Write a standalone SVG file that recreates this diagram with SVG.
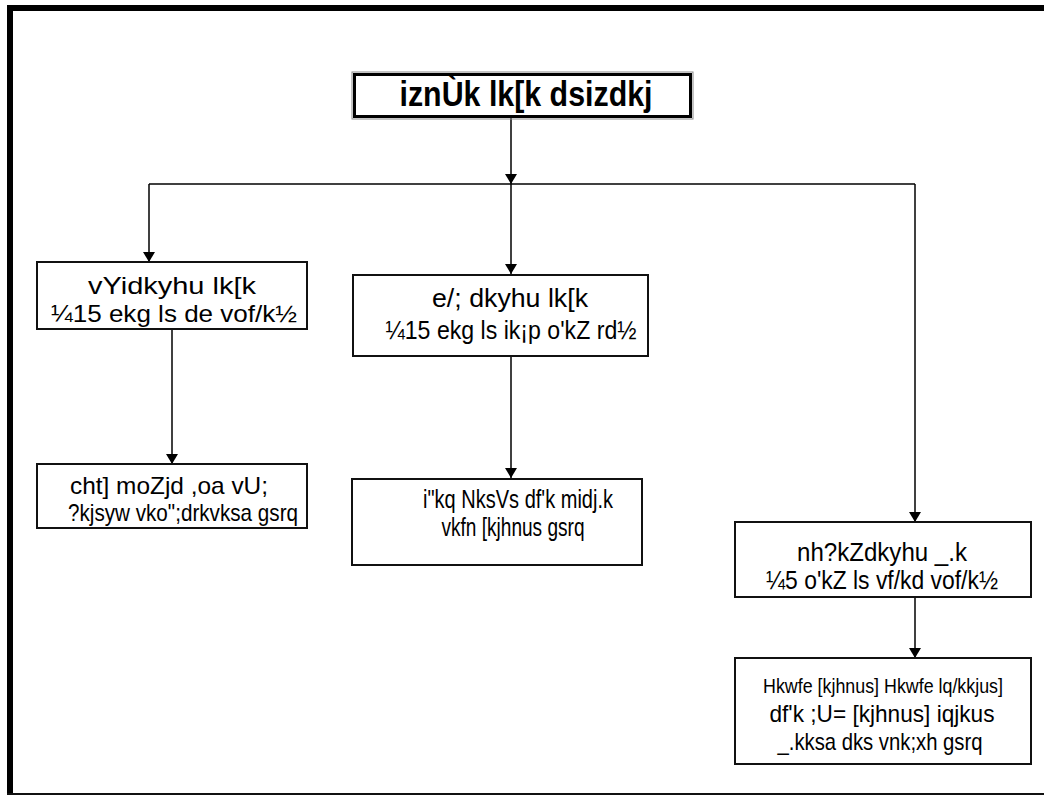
<svg xmlns="http://www.w3.org/2000/svg" width="1044" height="797" viewBox="0 0 1044 797">
<defs>
<marker id="arr" viewBox="0 0 10 12" refX="10" refY="6" markerWidth="10" markerHeight="12" markerUnits="userSpaceOnUse" orient="auto">
<path d="M0,0 L10,6 L0,12 Z" fill="#000"/>
</marker>
<style>
.box{fill:#fff;stroke:#111;stroke-width:2}
.t{font-family:"Liberation Sans Narrow","Liberation Sans",Arial,sans-serif;font-size:26px;fill:#000;text-anchor:middle}
.s{font-size:24px}
.xs{font-size:21px}
.title{font-family:"Liberation Sans Narrow","Liberation Sans",Arial,sans-serif;font-size:35px;font-weight:bold;fill:#000;text-anchor:middle}
.c{stroke:#000;stroke-width:1.5;fill:none}
</style>
</defs>
<rect width="1044" height="797" fill="#fff"/>
<g id="frame">
<rect x="7" y="5" width="1037" height="6" fill="#000"/>
<rect x="7" y="5" width="6" height="790" fill="#000"/>
<rect x="7" y="793" width="1037" height="2" fill="#111"/>
</g>
<g id="connectors">
<line class="c" x1="511" y1="118" x2="511" y2="184" marker-end="url(#arr)"/>
<line class="c" x1="149" y1="184" x2="915" y2="184"/>
<line class="c" x1="149" y1="184" x2="149" y2="262" marker-end="url(#arr)"/>
<line class="c" x1="511" y1="184" x2="511" y2="274" marker-end="url(#arr)"/>
<line class="c" x1="915" y1="184" x2="915" y2="522" marker-end="url(#arr)"/>
<line class="c" x1="172" y1="329" x2="172" y2="464" marker-end="url(#arr)"/>
<line class="c" x1="511" y1="356" x2="511" y2="478" marker-end="url(#arr)"/>
<line class="c" x1="915" y1="597" x2="915" y2="658" marker-end="url(#arr)"/>
</g>
<g id="title">
<rect x="352" y="72" width="341" height="47" fill="none" stroke="#888" stroke-width="1"/>
<rect x="354.5" y="74.5" width="336" height="42" fill="#fff" stroke="#000" stroke-width="3"/>
<text class="title" x="526" y="106" textLength="253" lengthAdjust="spacingAndGlyphs">iznÙk lk[k dsizdkj</text>
</g>
<g id="n1">
<rect class="box" x="37" y="262" width="270" height="67"/>
<text class="t s" x="172" y="294" textLength="168" lengthAdjust="spacingAndGlyphs">vYidkyhu lk[k</text>
<text class="t s" x="174" y="322" textLength="246" lengthAdjust="spacingAndGlyphs">¼15 ekg ls de vof/k½</text>
</g>
<g id="n2">
<rect class="box" x="353" y="275" width="295" height="81"/>
<text class="t" x="510" y="307" textLength="156" lengthAdjust="spacingAndGlyphs">e/; dkyhu lk[k</text>
<text class="t" x="511" y="339" textLength="251" lengthAdjust="spacingAndGlyphs">¼15 ekg ls ik¡p o'kZ rd½</text>
</g>
<g id="n3">
<rect class="box" x="37" y="464" width="270" height="64"/>
<text class="t s" x="169" y="494" textLength="198" lengthAdjust="spacingAndGlyphs">cht] moZjd ,oa vU;</text>
<text class="t s" x="183" y="521" textLength="230" lengthAdjust="spacingAndGlyphs">?kjsyw vko";drkvksa gsrq</text>
</g>
<g id="n4">
<rect class="box" x="352" y="479" width="290" height="86"/>
<text class="t" x="518" y="508" textLength="190" lengthAdjust="spacingAndGlyphs">i"kq NksVs df'k midj.k</text>
<text class="t" x="513" y="536" textLength="143" lengthAdjust="spacingAndGlyphs">vkfn [kjhnus gsrq</text>
</g>
<g id="n5">
<rect class="box" x="735" y="522" width="296" height="75"/>
<text class="t" x="882" y="561" textLength="170" lengthAdjust="spacingAndGlyphs">nh?kZdkyhu _.k</text>
<text class="t" x="882" y="589" textLength="232" lengthAdjust="spacingAndGlyphs">¼5 o'kZ ls vf/kd vof/k½</text>
</g>
<g id="n6">
<rect class="box" x="735" y="658" width="296" height="106"/>
<text class="t xs" x="883" y="693" textLength="240" lengthAdjust="spacingAndGlyphs">Hkwfe [kjhnus] Hkwfe lq/kkjus]</text>
<text class="t s" x="882" y="722" textLength="225" lengthAdjust="spacingAndGlyphs">df'k ;U= [kjhnus] iqjkus</text>
<text class="t s" x="880" y="750" textLength="205" lengthAdjust="spacingAndGlyphs">_.kksa dks vnk;xh gsrq</text>
</g>
</svg>
